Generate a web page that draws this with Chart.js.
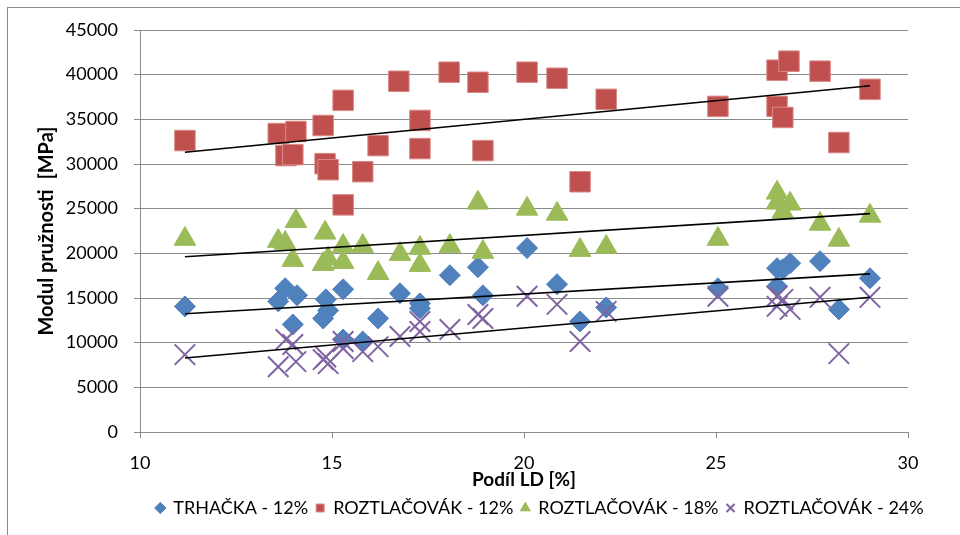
<!DOCTYPE html>
<html><head><meta charset="utf-8">
<script src="https://cdn.jsdelivr.net/npm/chart.js@4.4.1/dist/chart.umd.min.js"></script>
<style>
html,body{margin:0;padding:0;background:#fff;}
#wrap{position:relative;width:960px;height:535px;overflow:hidden;background:#fff;}
#frame{position:absolute;left:7px;top:7px;width:1000px;height:600px;border-left:1.5px solid #8a8a8a;border-top:1.5px solid #8a8a8a;}
canvas{position:absolute;left:0;top:0;}
</style></head><body>
<div id="wrap"><div id="frame"></div><canvas id="c" width="960" height="535"></canvas></div>
<script>
// ---- data ----
const seriesNames = ['TRHAČKA - 12%', 'ROZTLAČOVÁK - 12%', 'ROZTLAČOVÁK - 18%', 'ROZTLAČOVÁK - 24%'];

const trhX = [11.17, 13.6, 13.78, 14.09, 13.98, 14.84, 14.9, 14.77, 15.29, 15.29, 15.8, 16.2, 16.77, 17.29, 17.29, 18.07, 18.8, 18.93, 20.08, 20.86, 21.46, 22.14, 25.05, 26.59, 26.74, 26.93, 26.59, 27.71, 28.2, 29.01];
const trhY = [14060, 14625, 16090, 15300, 12040, 14850, 13610, 12710, 15975, 10350, 10125, 12710, 15525, 14400, 13840, 17550, 18450, 15300, 20590, 16540, 12375, 13950, 16090, 18340, 18225, 18900, 16310, 19125, 13725, 17210];

const r12X = [11.17, 13.6, 14.06, 14.77, 15.29, 13.8, 13.98, 14.82, 14.9, 15.8, 16.2, 15.29, 16.74, 17.29, 17.29, 18.05, 18.8, 18.93, 20.08, 20.86, 22.14, 21.46, 25.05, 26.59, 26.9, 26.59, 26.74, 27.71, 28.2, 29.01];
const r12Y = [32625, 33410, 33640, 34310, 37125, 30940, 31050, 30040, 29360, 29140, 32060, 25425, 39260, 34875, 31725, 40275, 39150, 31500, 40275, 39600, 37240, 28010, 36450, 40500, 41510, 36450, 35210, 40390, 32400, 38360];

const r18X = [11.17, 14.06, 14.82, 13.6, 13.78, 13.98, 14.77, 14.9, 15.29, 15.29, 15.8, 16.2, 16.77, 17.29, 17.29, 18.07, 18.93, 18.8, 20.08, 20.86, 21.46, 22.14, 25.05, 26.59, 26.93, 26.74, 26.59, 27.71, 28.2, 29.01];
const r18Y = [21600, 23600, 22300, 21375, 21150, 19240, 18790, 19400, 20810, 19010, 20810, 17775, 19910, 20590, 18675, 20810, 20140, 25650, 24975, 24410, 20360, 20700, 21600, 26775, 25540, 24640, 25650, 23290, 21500, 24190];

const r24X = [11.17, 13.6, 13.8, 13.98, 14.06, 14.77, 14.84, 14.9, 15.29, 15.29, 15.8, 16.2, 16.77, 17.29, 17.29, 18.07, 18.8, 18.93, 20.08, 20.86, 21.46, 22.14, 25.05, 26.59, 26.59, 26.74, 26.93, 27.71, 28.2, 29.01];
const r24Y = [8660, 7310, 10350, 9790, 7875, 8100, 8400, 7650, 10125, 9340, 9000, 9560, 10690, 12375, 11250, 11475, 13160, 12710, 15190, 14290, 10125, 13500, 15190, 15190, 14060, 14850, 13725, 15075, 8775, 15075];

const xTicks = [10, 15, 20, 25, 30];
const yTicks = [0, 5000, 10000, 15000, 20000, 25000, 30000, 35000, 40000, 45000];

// ---- helpers ----
function pts(xs, ys) { return xs.map((x, i) => ({x: x, y: ys[i]})); }
function trend(xs, ys) {
  const n = xs.length;
  const mx = xs.reduce((a, b) => a + b, 0) / n;
  const my = ys.reduce((a, b) => a + b, 0) / n;
  let sxy = 0, sxx = 0;
  for (let i = 0; i < n; i++) { sxy += (xs[i] - mx) * (ys[i] - my); sxx += (xs[i] - mx) * (xs[i] - mx); }
  const b = sxy / sxx, a = my - b * mx;
  const x0 = Math.min(...xs), x1 = Math.max(...xs);
  return [{x: x0, y: a + b * x0}, {x: x1, y: a + b * x1}];
}

const FONT = 'Lato, "Open Sans", sans-serif';
const GRID = '#8a8a8a';
const LEGEND_CENTER = 540;

const legendShift = {
  id: 'legendShift',
  afterLayout(chart) {
    const l = chart.legend;
    if (!l) return;
    const dx = LEGEND_CENTER - (l.left + l.right) / 2;
    l.left += dx; l.right += dx;
    (l.legendHitBoxes || []).forEach(h => { h.left += dx; });
  }
};

const trendDs = (xs, ys) => ({
  type: 'scatter', data: trend(xs, ys), showLine: true, borderColor: '#000', borderWidth: 1.6,
  pointRadius: 0, pointHoverRadius: 0, fill: false, order: 0
});

new Chart(document.getElementById('c'), {
  type: 'scatter',
  data: {
    datasets: [
      {label: seriesNames[0], data: pts(trhX, trhY), pointStyle: 'rectRot', pointRadius: 10.5,
       backgroundColor: '#4F81BD', borderColor: '#4F81BD', borderWidth: 1, order: 4},
      {label: seriesNames[1], data: pts(r12X, r12Y), pointStyle: 'rect', pointRadius: 14.5,
       backgroundColor: '#C0504D', borderColor: '#D88A88', borderWidth: 1, order: 3},
      {label: seriesNames[2], data: pts(r18X, r18Y), pointStyle: 'triangle', pointRadius: 12.5,
       backgroundColor: '#9BBB59', borderColor: '#9BBB59', borderWidth: 1, order: 2},
      {label: seriesNames[3], data: pts(r24X, r24Y), pointStyle: 'crossRot', pointRadius: 14.5,
       backgroundColor: '#8064A2', borderColor: '#8064A2', borderWidth: 2, order: 1},
      trendDs(trhX, trhY), trendDs(r12X, r12Y), trendDs(r18X, r18Y), trendDs(r24X, r24Y)
    ]
  },
  options: {
    responsive: false, animation: false, devicePixelRatio: 1,
    layout: {padding: {left: 30, right: 52, top: 30, bottom: 8}},
    plugins: {
      tooltip: {enabled: false},
      legend: {
        position: 'bottom',
        labels: {
          usePointStyle: true, boxWidth: 8, boxHeight: 8, padding: 8,
          color: '#000', font: {family: FONT, size: 18},
          filter: (item) => item.datasetIndex < 4,
          sort: (a, b) => a.datasetIndex - b.datasetIndex
        }
      }
    },
    scales: {
      x: {
        type: 'linear', min: 10, max: 30,
        afterBuildTicks: (s) => { s.ticks = xTicks.map(v => ({value: v})); },
        afterFit: (s) => { s.height = 59; },
        ticks: {color: '#000', font: {family: FONT, size: 18}, padding: 14, callback: (v) => String(v)},
        grid: {drawOnChartArea: false, drawTicks: true, tickLength: 6, color: GRID},
        border: {display: true, color: GRID, width: 1},
        title: {display: true, text: 'Podíl LD [%]', color: '#000', font: {family: FONT, size: 19, weight: 'bold'}, padding: {top: 0, bottom: 0}}
      },
      y: {
        type: 'linear', min: 0, max: 45000,
        afterBuildTicks: (s) => { s.ticks = yTicks.map(v => ({value: v})); },
        afterFit: (s) => { s.width = 110; },
        ticks: {color: '#000', font: {family: FONT, size: 18}, padding: 16, callback: (v) => String(v)},
        grid: {drawTicks: true, tickLength: 6, color: GRID, lineWidth: 1},
        border: {display: true, color: GRID, width: 1},
        title: {display: true, text: 'Modul pružnosti  [MPa]', color: '#000', font: {family: FONT, size: 20, weight: 'bold'}, padding: {top: 5, bottom: 0}}
      }
    }
  },
  plugins: [legendShift]
});
</script>
</body></html>
